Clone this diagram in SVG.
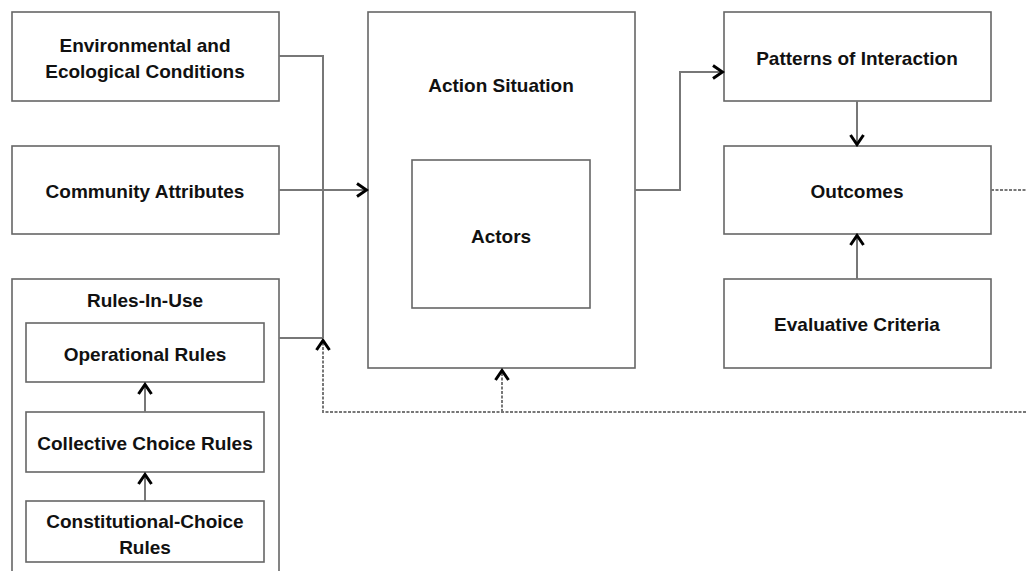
<svg xmlns="http://www.w3.org/2000/svg" width="1026" height="571" viewBox="0 0 1026 571">
<style>
.box{fill:#fff;stroke:#666;stroke-width:1.6}
.t{font-family:"Liberation Sans",Arial,sans-serif;font-weight:bold;font-size:19px;fill:#111;text-anchor:middle}
.c{fill:none;stroke:#777;stroke-width:2}
.d{fill:none;stroke:#777;stroke-width:2;stroke-dasharray:3,1.5}
</style>
<defs>
<marker id="ah" viewBox="0 0 16 16" refX="14" refY="8" markerWidth="16" markerHeight="16" markerUnits="userSpaceOnUse" orient="auto">
<path d="M4,1.5 L13.5,8 L4,14.5" fill="none" stroke="#000" stroke-width="3" stroke-linejoin="miter"/>
</marker>
</defs>
<rect width="1026" height="571" fill="#fff"/>
<g id="env"><rect class="box" x="12" y="12" width="267" height="89"/><text class="t" x="145" y="52">Environmental and</text><text class="t" x="145" y="78">Ecological Conditions</text></g>
<g id="community"><rect class="box" x="12" y="146" width="267" height="88"/><text class="t" x="145" y="198">Community Attributes</text></g>
<g id="rules"><rect class="box" x="12" y="279" width="267" height="300"/><text class="t" x="145" y="307">Rules-In-Use</text></g>
<g id="operational"><rect class="box" x="26" y="323" width="238" height="59"/><text class="t" x="145" y="361">Operational Rules</text></g>
<g id="collective"><rect class="box" x="26" y="412" width="238" height="60"/><text class="t" x="145" y="450">Collective Choice Rules</text></g>
<g id="constitutional"><rect class="box" x="26" y="501" width="238" height="61"/><text class="t" x="145" y="528">Constitutional-Choice</text><text class="t" x="145" y="554">Rules</text></g>
<g id="action"><rect class="box" x="368" y="12" width="267" height="356"/><text class="t" x="501" y="92">Action Situation</text></g>
<g id="actors"><rect class="box" x="412" y="160" width="178" height="148"/><text class="t" x="501" y="243">Actors</text></g>
<g id="patterns"><rect class="box" x="724" y="12" width="267" height="89"/><text class="t" x="857" y="65">Patterns of Interaction</text></g>
<g id="outcomes"><rect class="box" x="724" y="146" width="267" height="88"/><text class="t" x="857" y="198">Outcomes</text></g>
<g id="evaluative"><rect class="box" x="724" y="279" width="267" height="89"/><text class="t" x="857" y="331">Evaluative Criteria</text></g>
<g id="connectors">
<polyline class="c" points="279,56 323,56 323,338"/>
<polyline class="c" points="279,338 323,338"/>
<line class="c" x1="279" y1="190" x2="367" y2="190" marker-end="url(#ah)"/>
<polyline class="c" points="635,190 680,190 680,72 723,72" marker-end="url(#ah)"/>
<line class="c" x1="857" y1="101" x2="857" y2="145" marker-end="url(#ah)"/>
<line class="c" x1="857" y1="279" x2="857" y2="235" marker-end="url(#ah)"/>
<line class="c" x1="145" y1="412" x2="145" y2="384" marker-end="url(#ah)"/>
<line class="c" x1="145" y1="501" x2="145" y2="474" marker-end="url(#ah)"/>
<line class="d" x1="991" y1="190" x2="1026" y2="190"/>
<polyline class="d" points="1026,412 323,412 323,340" marker-end="url(#ah)"/>
<line class="d" x1="502" y1="412" x2="502" y2="370" marker-end="url(#ah)"/>
</g>
</svg>
